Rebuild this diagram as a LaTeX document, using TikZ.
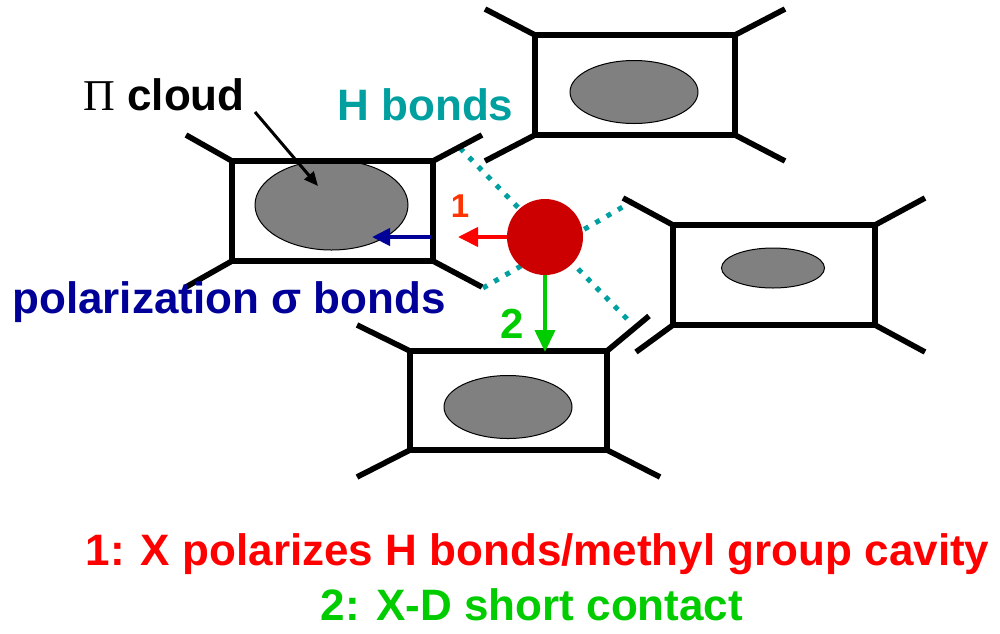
\documentclass[tikz,border=0pt]{standalone}
\usepackage{fontspec}
\setmainfont{Liberation Sans}
\newfontfamily\serifgr{Liberation Serif}
\usetikzlibrary{arrows.meta,shapes.geometric}
\definecolor{teal1}{RGB}{0,160,160}
\definecolor{navy1}{RGB}{0,0,153}
\definecolor{green1}{RGB}{0,204,0}
\definecolor{red1}{RGB}{255,0,0}
\definecolor{dred}{RGB}{204,0,0}
\definecolor{cloudgray}{RGB}{128,128,128}
\definecolor{orng}{RGB}{255,51,0}
\begin{document}
\begin{tikzpicture}[x=0.5pt,y=-0.5pt,
 ring/.style={draw=black,line width=3pt,rectangle,inner sep=0pt,outer sep=0pt},
 spoke/.style={line width=2.8pt},
 cloudell/.style={ellipse,draw=black,line width=0.5pt,fill=cloudgray,inner sep=0pt},
 lbl/.style={inner sep=0pt,font=\fontsize{22}{26}\selectfont\bfseries},
 hb/.style={teal1,line width=2.5pt,dash pattern=on 2.5pt off 4pt},
 arr/.style={line width=2pt},
]
\useasboundingbox (0,0) rectangle (1000,633);

% H-bond dotted lines
\coordinate (hA1) at (460,148);
\coordinate (hA2) at (630,322);
\coordinate (hB1) at (483,288);
\coordinate (hB2) at (633,201);
\draw[hb] (hA1) -- (hA2);
\draw[hb] (hB1) -- (hB2);

% ellipses
\node[cloudell,minimum width=76.5pt,minimum height=45pt] (e1) at (331.5,205) {};
\node[cloudell,minimum width=64pt,minimum height=31.5pt] (e2) at (634,92) {};
\node[cloudell,minimum width=51.5pt,minimum height=20pt] (e3) at (773,268) {};
\node[cloudell,minimum width=64pt,minimum height=31.5pt] (e4) at (508,407) {};

% boxes
\node[ring,minimum width=100.5pt,minimum height=50pt] (b1) at (332.5,211) {};
\node[ring,minimum width=100pt,minimum height=50pt] (b2) at (635,85) {};
\node[ring,minimum width=101pt,minimum height=50pt] (b3) at (774,275) {};
\node[ring,minimum width=98.5pt,minimum height=49.5pt] (b4) at (508.5,400.5) {};

% spoke ends
\coordinate (s1a) at (186,135); \coordinate (s1b) at (186,287);
\coordinate (s1c) at (482,135); \coordinate (s1d) at (482,287);
\coordinate (s2a) at (485,9);   \coordinate (s2b) at (485,161);
\coordinate (s2c) at (785,9);   \coordinate (s2d) at (785,161);
\coordinate (s3a) at (623,198); \coordinate (s3b) at (636,352);
\coordinate (s3c) at (925,198); \coordinate (s3d) at (925,352);
\coordinate (s4a) at (357,325); \coordinate (s4b) at (357,477);
\coordinate (s4c) at (649,316); \coordinate (s4d) at (660,477);

\foreach \b in {1,2,3,4}{
  \draw[spoke] (b\b.north west) -- (s\b a);
  \draw[spoke] (b\b.south west) -- (s\b b);
  \draw[spoke] (b\b.north east) -- (s\b c);
  \draw[spoke] (b\b.south east) -- (s\b d);
}

% X atom
\node[circle,fill=dred,minimum size=38pt,inner sep=0pt] (X) at (545,237) {};

% arrows
\coordinate (t1) at (458,237);
\draw[arr,red1,-{Triangle[length=10pt,width=9.5pt]}] (X.west) -- (t1);
\coordinate (t2) at (545,352);
\draw[arr,green1,-{Triangle[length=11pt,width=10pt]}] (X.south) -- (t2);
\coordinate (bs) at (431,237);
\coordinate (bt) at (372,237);
\draw[arr,navy1,-{Triangle[length=9pt,width=8.5pt]}] (bs) -- (bt);

% labels
\node[lbl,anchor=base west] (picl) at (83,110) {{\serifgr\mdseries Π} cloud};
\coordinate (cs) at (255,112);
\coordinate (ct) at (318,186);
\draw[line width=1.5pt,-{Triangle[length=7pt,width=6pt]}] (cs) -- (ct);
\node[lbl,anchor=base west,text=teal1] (hbl) at (337,120) {H bonds};
\node[lbl,anchor=base west,text=navy1] (pol) at (12,313) {polarization σ bonds};
\node[inner sep=0pt,font=\fontsize{16.5}{20}\selectfont\bfseries,text=orng,anchor=base] (n1) at (460,217) {1};
\node[inner sep=0pt,font=\fontsize{21}{25}\selectfont\bfseries,text=green1,anchor=base] (n2) at (512,338) {2};
\node[lbl,anchor=base,text=red1] (l1) at (537.5,565) {1: X polarizes H bonds/methyl group cavity};
\node[lbl,anchor=base,text=green1] (l2) at (532,620) {2: X-D short contact};
\end{tikzpicture}
\end{document}
